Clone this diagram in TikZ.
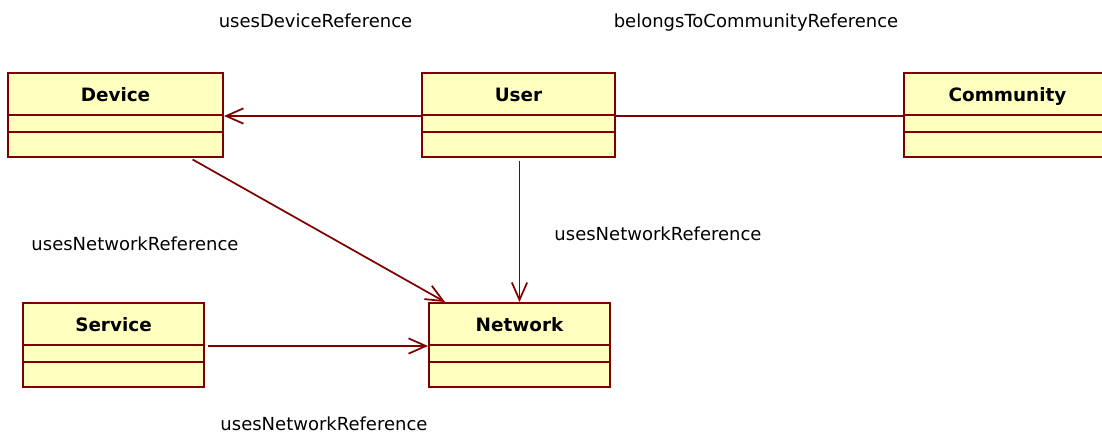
\documentclass[tikz,border=0pt]{standalone}
\usepackage{fontspec}
\setmainfont{DejaVu Sans}
\usetikzlibrary{arrows.meta, calc, positioning}

\definecolor{umlred}{RGB}{128,0,0}
\definecolor{umlfill}{RGB}{255,255,192}

\tikzset{
  classbox/.style={draw=umlred, fill=umlfill, line width=1.5pt, rectangle, inner sep=0pt},
  divider/.style={draw=umlred, line width=1.5pt},
  assoc/.style={draw=umlred, line width=1.3pt},
  nav/.style={assoc, -{Straight Barb[length=13pt, width=11.5pt, line width=1.3pt]}},
  rolename/.style={anchor=base, font=\fontsize{13.5}{16}\selectfont, inner sep=0pt},
  classname/.style={anchor=base, font=\bfseries\fontsize{13.8}{16}\selectfont, inner sep=0pt},
}

% name, centre x, centre y, width, title
\newcommand{\umlclass}[5]{%
  \node[classbox, minimum width=#4*0.75pt, minimum height=63pt] (#1) at (#2,#3) {};
  \node[classname] (#1-title) at ($(#1.north)+(0,29)$) {#5};
  \draw[divider] ($(#1.north west)+(0,43)$) -- ($(#1.north east)+(0,43)$);
  \draw[divider] ($(#1.north west)+(0,60)$) -- ($(#1.north east)+(0,60)$);
}

\begin{document}
\begin{tikzpicture}[x=0.75pt, y=-0.75pt]
    \useasboundingbox (0,0) rectangle (1102,435);

    \umlclass{device}{115.5}{115}{215}{Device}
    \umlclass{user}{518.5}{115}{193}{User}
    \umlclass{community}{1007.5}{115}{207}{Community}
    \umlclass{service}{113.5}{345}{181}{Service}
    \umlclass{network}{519.5}{345}{181}{Network}

    \draw[nav] ([yshift=-0.75pt]user.west) -- ([yshift=-0.75pt]device.east);
    \draw[assoc] ([yshift=-0.75pt]user.east) -- ([yshift=-0.75pt]community.west);
    \draw[nav, shorten <=2.25pt] (device.-30) -- (network.150);
    \draw[nav, shorten <=2.25pt] (user.south -| network.north) -- (network.north);
    \draw[nav, shorten <=2.25pt] ([yshift=-0.75pt]service.east) -- ([yshift=-0.75pt]network.west);

    \node[rolename] (devref) at (315.5,28) {usesDeviceReference};
    \node[rolename] (commref) at (756,28) {belongsToCommunityReference};
    \node[rolename] (netref1) at (135,250) {usesNetworkReference};
    \node[rolename] (netref2) at (658,240) {usesNetworkReference};
    \node[rolename] (netref3) at (324,430) {usesNetworkReference};
\end{tikzpicture}
\end{document}
